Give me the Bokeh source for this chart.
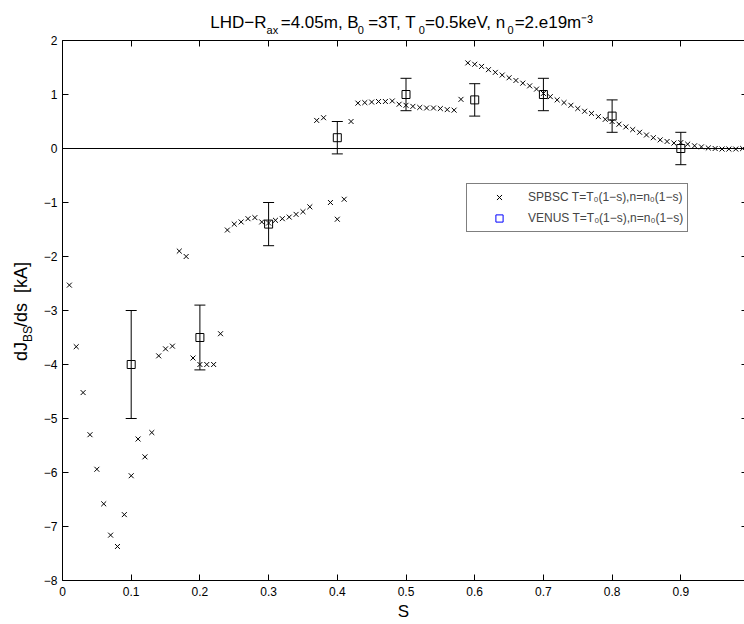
import math
from bokeh.plotting import figure
from bokeh.models import (Range1d, FixedTicker, LinearAxis, Span, Whisker, TeeHead,
                          ColumnDataSource, Legend, LegendItem, Label)
from bokeh.embed import file_html
from bokeh.resources import INLINE

# ---------------- data ----------------
spbsc_s = [0.01, 0.02, 0.03, 0.04, 0.05, 0.06, 0.07, 0.08, 0.09, 0.10,
           0.11, 0.12, 0.13, 0.14, 0.15, 0.16, 0.17, 0.18, 0.19, 0.20,
           0.21, 0.22, 0.23, 0.24, 0.25, 0.26, 0.27, 0.28, 0.29, 0.30,
           0.31, 0.32, 0.33, 0.34, 0.35, 0.36, 0.37, 0.38, 0.39, 0.40,
           0.41, 0.42, 0.43, 0.44, 0.45, 0.46, 0.47, 0.48, 0.49, 0.50,
           0.51, 0.52, 0.53, 0.54, 0.55, 0.56, 0.57, 0.58, 0.59, 0.60,
           0.61, 0.62, 0.63, 0.64, 0.65, 0.66, 0.67, 0.68, 0.69, 0.70,
           0.71, 0.72, 0.73, 0.74, 0.75, 0.76, 0.77, 0.78, 0.79, 0.80,
           0.81, 0.82, 0.83, 0.84, 0.85, 0.86, 0.87, 0.88, 0.89, 0.90,
           0.91, 0.92, 0.93, 0.94, 0.95, 0.96, 0.97, 0.98, 0.99]
spbsc_dj = [-2.53, -3.67, -4.52, -5.30, -5.94, -6.58, -7.16, -7.37, -6.78, -6.06,
            -5.38, -5.71, -5.26, -3.84, -3.71, -3.66, -1.90, -2.00, -3.88, -4.00,
            -4.00, -4.00, -3.43, -1.51, -1.40, -1.36, -1.30, -1.28, -1.36, -1.38,
            -1.33, -1.30, -1.27, -1.22, -1.17, -1.08, 0.52, 0.57, -1.00, -1.31,
            -0.94, 0.50, 0.84, 0.85, 0.86, 0.87, 0.87, 0.88, 0.82, 0.80,
            0.78, 0.76, 0.75, 0.75, 0.74, 0.72, 0.71, 0.91, 1.585, 1.56,
            1.52, 1.46, 1.41, 1.36, 1.31, 1.26, 1.21, 1.16, 1.10, 1.02,
            0.96, 0.90, 0.85, 0.80, 0.74, 0.69, 0.65, 0.59, 0.54, 0.50,
            0.45, 0.40, 0.35, 0.30, 0.25, 0.20, 0.16, 0.13, 0.10, 0.11,
            0.08, 0.05, 0.03, 0.01, 0.00, -0.01, -0.01, -0.01, 0.00]

venus_s = [0.1, 0.2, 0.3, 0.4, 0.5, 0.6, 0.7, 0.8, 0.9]
venus_dj = [-4.0, -3.5, -1.4, 0.2, 1.0, 0.9, 1.0, 0.6, 0.0]
venus_err = [1.0, 0.6, 0.4, 0.3, 0.3, 0.3, 0.3, 0.3, 0.3]

x_ticks = [0, 0.1, 0.2, 0.3, 0.4, 0.5, 0.6, 0.7, 0.8, 0.9]
y_ticks = [-8, -7, -6, -5, -4, -3, -2, -1, 0, 1, 2]
y_tick_labels = ["\u22128", "\u22127", "\u22126", "\u22125", "\u22124", "\u22123",
                 "\u22122", "\u22121", "0", "1", "2"]

legend_labels = ["SPBSC T=T\u2080(1\u2212s),n=n\u2080(1\u2212s)",
                 "VENUS T=T\u2080(1\u2212s),n=n\u2080(1\u2212s)"]

# title: main-line pieces and the subscripts that follow them
title_main = ["LHD\u2212R", "=4.05m, B", "=3T, T", "=0.5keV, n", "=2.e19m\u207b\u00b3"]
title_subs = ["ax", "0", "0", "0"]
ylabel_main = ["dJ", "/ds\u00a0\u00a0[kA]"]
ylabel_sub = "BS"
xlabel = "S"

FONT = "Liberation Sans"
NBSP = "\u00a0"

# ---------------- figure ----------------
p = figure(width=744, height=624, x_range=Range1d(0, 0.9927), y_range=Range1d(-8, 2),
           output_backend="svg", toolbar_location=None,
           min_border_left=62, min_border_right=0, min_border_top=40, min_border_bottom=44)
p.grid.visible = False
p.outline_line_color = None
p.background_fill_color = "white"
p.border_fill_color = "white"

for ax in p.xaxis:
    ax.ticker = FixedTicker(ticks=x_ticks)
    ax.major_tick_in = 6
    ax.major_tick_out = 0
    ax.minor_tick_in = 0
    ax.minor_tick_out = 0
    ax.major_label_standoff = 6
    ax.major_label_text_font = FONT
    ax.major_label_text_font_size = "12px"
    ax.major_label_text_color = "black"
    ax.axis_line_color = "black"
    ax.major_tick_line_color = "black"

for ax in p.yaxis:
    ax.ticker = FixedTicker(ticks=y_ticks)
    ax.major_label_overrides = {t: l for t, l in zip(y_ticks, y_tick_labels)}
    ax.major_tick_in = 6
    ax.major_tick_out = 0
    ax.minor_tick_in = 0
    ax.minor_tick_out = 0
    ax.major_label_standoff = 5
    ax.major_label_text_font = FONT
    ax.major_label_text_font_size = "12px"
    ax.major_label_text_color = "black"
    ax.axis_line_color = "black"
    ax.major_tick_line_color = "black"

top_ax = LinearAxis(ticker=FixedTicker(ticks=x_ticks), major_tick_in=6, major_tick_out=0,
                    minor_tick_in=0, minor_tick_out=0, major_label_standoff=0,
                    major_label_text_font_size="0px",
                    major_label_overrides={t: "" for t in x_ticks},
                    axis_line_color="black", major_tick_line_color="black")
p.add_layout(top_ax, "above")
right_ax = LinearAxis(ticker=FixedTicker(ticks=y_ticks), major_tick_in=3, major_tick_out=0,
                      minor_tick_in=0, minor_tick_out=0, major_label_standoff=0,
                      major_label_text_font_size="0px",
                      major_label_overrides={t: "" for t in y_ticks},
                      axis_line_color=None, major_tick_line_color="black")
p.add_layout(right_ax, "right")

# zero line
p.add_layout(Span(location=0, dimension="width", line_color="black", line_width=1))

# SPBSC crosses
src_x = ColumnDataSource(dict(s=spbsc_s, dj=spbsc_dj))
xr = p.scatter("s", "dj", source=src_x, marker="x", size=7, line_color="black", line_width=1)

# VENUS squares with error bars
src_v = ColumnDataSource(dict(s=venus_s, dj=venus_dj,
                              upper=[v + e for v, e in zip(venus_dj, venus_err)],
                              lower=[v - e for v, e in zip(venus_dj, venus_err)]))
p.add_layout(Whisker(source=src_v, base="s", upper="upper", lower="lower",
                     line_color="black", line_width=1,
                     upper_head=TeeHead(size=11, line_color="black", line_width=1),
                     lower_head=TeeHead(size=11, line_color="black", line_width=1)))
p.scatter("s", "dj", source=src_v, marker="square", size=8, fill_color=None,
          line_color="black", line_width=1)

# legend proxy (blue square as in the original legend); NaN point is never drawn
dummy = p.scatter(x=[float("nan")], y=[float("nan")], marker="square", size=8,
                  fill_color=None, line_color="#0000ff", line_width=1)
legend = Legend(items=[LegendItem(label=legend_labels[0], renderers=[xr]),
                       LegendItem(label=legend_labels[1], renderers=[dummy])],
                location=(404, 348), padding=4, margin=0, spacing=3,
                glyph_width=56, glyph_height=18, label_height=18, label_standoff=1,
                label_text_font=FONT, label_text_font_size="12px",
                border_line_color="black", border_line_width=1,
                background_fill_color="white", background_fill_alpha=1)
p.add_layout(legend)

# ---------------- text with sub/superscripts (labels in side panels) ----------------
W = {"L": 556, "H": 722, "D": 722, "\u2212": 584, "R": 722, "a": 556, "x": 500, "=": 584,
     "0": 556, "1": 556, "2": 556, "3": 556, "4": 556, "5": 556, "6": 556, "7": 556,
     "8": 556, "9": 556, ".": 278, "m": 833, ",": 278, " ": 278, NBSP: 278, "B": 667,
     "T": 611, "k": 500, "e": 556, "V": 667, "n": 556,
     "S": 667, "P": 667, "C": 722, "(": 333, ")": 333, "s": 500, "d": 556,
     "J": 500, "/": 278, "[": 278, "]": 278, "A": 667, "\u207b": 350, "\u00b3": 333}


def tw(s, fs):
    return sum(W[c] for c in s) * fs / 1000.0


def gap(width, fs):
    unit = W[NBSP] * fs / 1000.0
    n = max(0, int(round(width / unit)))
    return NBSP * n, n * unit


FX0, FY0 = 62, 580          # frame left / bottom in canvas pixels
MAIN_FS, SUB_FS = 17, 11

# main title line, with gaps for the subscripts
main_txt = ""
sub_starts = []
x = 0.0
for i, piece in enumerate(title_main):
    main_txt += piece
    x += tw(piece, MAIN_FS)
    if i < len(title_subs):
        sub_starts.append(x)
        g, gw = gap(tw(title_subs[i], SUB_FS) + 1.2, MAIN_FS)
        main_txt += g
        x += gw
title_w = x
tx0 = 403 - title_w / 2

# subscript line
sub_txt = ""
cur = sub_starts[0]
for i, sub in enumerate(title_subs):
    if i > 0:
        g, gw = gap(sub_starts[i] - cur, SUB_FS)
        sub_txt += g
        cur += gw
    sub_txt += sub
    cur += tw(sub, SUB_FS)

# above panel, stacked outward: top axis, subscript line, main line
SUB_BOX_H = 1.2 * SUB_FS
p.add_layout(Label(x=tx0 + sub_starts[0] - FX0, y=11,
                   x_units="screen", y_units="screen", text=sub_txt, text_font=FONT,
                   text_font_size=f"{SUB_FS}px", text_color="black",
                   text_align="left", text_baseline="alphabetic"), "above")
main_box_bottom = 40 - SUB_BOX_H
p.add_layout(Label(x=tx0 - FX0, y=main_box_bottom - 25 + 4,
                   x_units="screen", y_units="screen", text=main_txt, text_font=FONT,
                   text_font_size=f"{MAIN_FS}px", text_color="black",
                   text_align="left", text_baseline="alphabetic"), "above")

# y label (rotated), left panel stacked outward: y axis, subscript, main
YMAIN, YSUB = 18, 12
ax_w = 5 + tw("\u22128", 12)
sub_box_left = FX0 - ax_w - 1.2 * YSUB
main_box_left = sub_box_left - 1.2 * YMAIN
sub_w = tw(ylabel_sub, YSUB)
yg, ygw = gap(sub_w, YMAIN)
ymain_txt = ylabel_main[0] + yg + ylabel_main[1]
ylen = tw(ylabel_main[0], YMAIN) + ygw + tw(ylabel_main[1], YMAIN)
ystart = 311 + ylen / 2     # canvas y of the text start (bottom)
p.add_layout(Label(x=35.5 - sub_box_left - 5, y=FY0 - (ystart - tw(ylabel_main[0], YMAIN)),
                   x_units="screen", y_units="screen", text=ylabel_sub, text_font=FONT,
                   text_font_size=f"{YSUB}px", text_color="black", text_align="left",
                   text_baseline="alphabetic", angle=math.pi / 2), "left")
p.add_layout(Label(x=28 - main_box_left - 6, y=FY0 - ystart,
                   x_units="screen", y_units="screen", text=ymain_txt, text_font=FONT,
                   text_font_size=f"{YMAIN}px", text_color="black", text_align="left",
                   text_baseline="alphabetic", angle=math.pi / 2), "left")

# x label, below panel stacked: x axis, label box
xl_box_bottom = 580 + 6 + 1.2 * 12 + 1.2 * 17
p.add_layout(Label(x=403 - FX0, y=xl_box_bottom - 615, x_units="screen", y_units="screen",
                   text=xlabel, text_font=FONT, text_font_size="17px", text_color="black",
                   text_align="center", text_baseline="alphabetic"), "below")

open("out.html", "w").write(file_html(p, INLINE))
